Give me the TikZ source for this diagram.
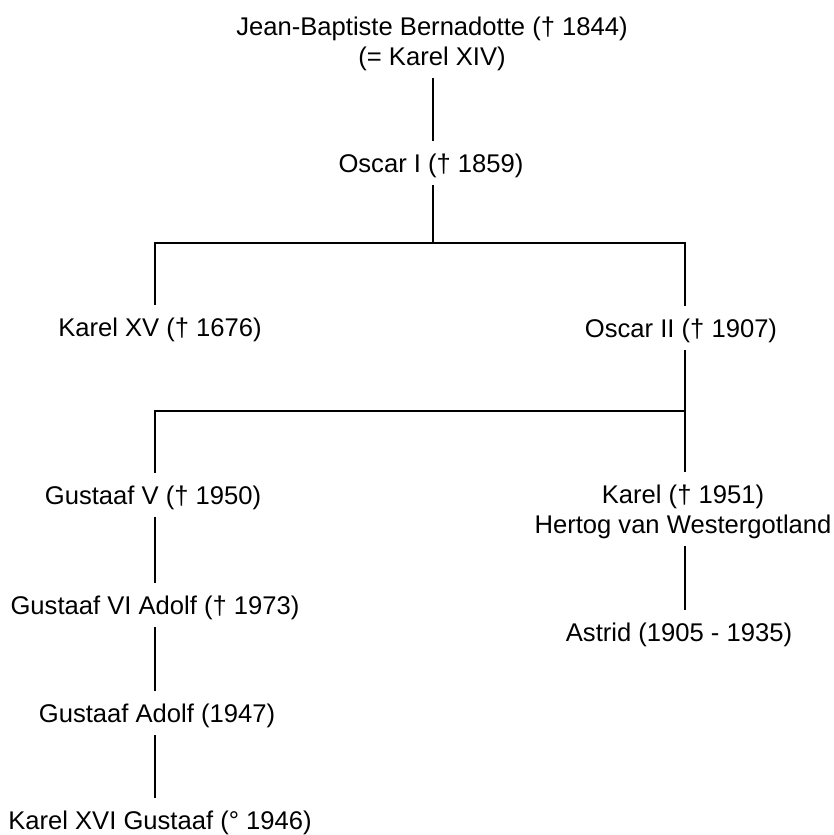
\documentclass[tikz,border=0pt]{standalone}
\usepackage{fontspec}
\setmainfont{Liberation Sans}
\begin{document}
\begin{tikzpicture}[x=1pt,y=-1pt,
  person/.style={font=\fontsize{25.6}{30}\selectfont, inner xsep=0pt, inner ysep=13pt, text height=18.3pt, text depth=0pt},
  twoline/.style={person, align=center, text height=48.3pt, text depth=0pt},
  link/.style={line width=1.6pt, black}]
\useasboundingbox (0,0) rectangle (834,835);
\coordinate (cT) at (433,0);
\coordinate (cL) at (155,0);
\coordinate (cR) at (685,0);
\node[twoline] (jb) at (432,41) {Jean-Baptiste Bernadotte († 1844)\\(= Karel XIV)};
\node[person] (o1) at (431,163) {Oscar I († 1859)};
\node[person] (k15) at (160,327) {Karel XV († 1676)};
\node[person] (o2) at (681,328) {Oscar II († 1907)};
\node[person] (g5) at (153,495) {Gustaaf V († 1950)};
\node[twoline] (k) at (683,509) {Karel († 1951)\\Hertog van Westergotland};
\node[person] (g6) at (155,605) {Gustaaf VI Adolf († 1973)};
\node[person] (ga) at (157,713) {Gustaaf Adolf (1947)};
\node[person] (k16) at (160,820) {Karel XVI Gustaaf (° 1946)};
\node[person] (as) at (679,632) {Astrid (1905 - 1935)};
\coordinate (b1) at (433,243);
\coordinate (b2) at (685,411);
\draw[link] (jb.south -| cT) -- (o1.north -| cT);
\draw[link] (o1.south -| cT) -- (b1);
\draw[link] (k15.north -| cL) |- (b1) -| (o2.north -| cR);
\draw[link] (o2.south -| cR) -- (k.north -| cR);
\draw[link] (g5.north -| cL) |- (b2);
\draw[link] (g5.south -| cL) -- (g6.north -| cL);
\draw[link] (g6.south -| cL) -- (ga.north -| cL);
\draw[link] (ga.south -| cL) -- (k16.north -| cL);
\draw[link] (k.south -| cR) -- (as.north -| cR);
\end{tikzpicture}
\end{document}
